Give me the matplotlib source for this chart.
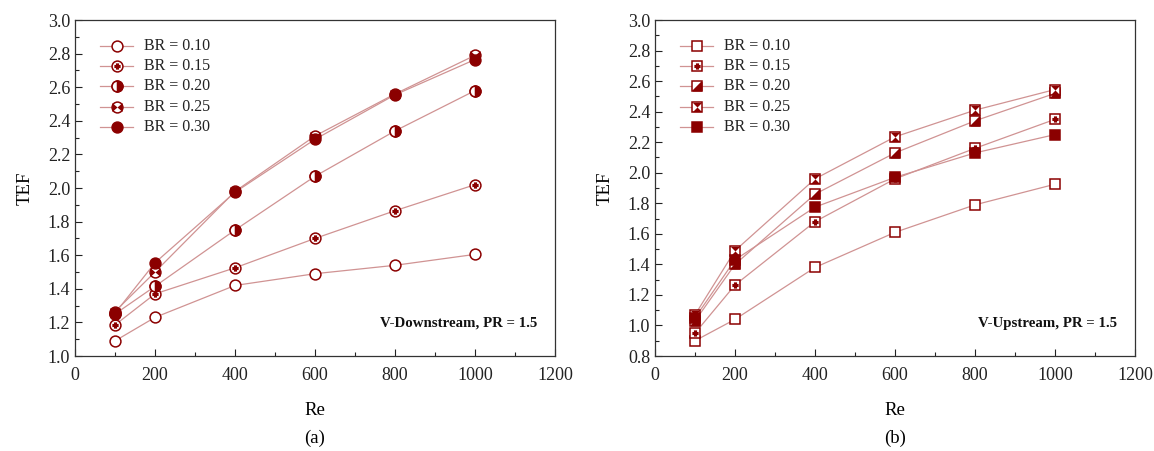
import numpy as np
import matplotlib.pyplot as plt
from matplotlib.lines import Line2D

plt.rcParams['font.family'] = ['Liberation Serif', 'DejaVu Serif']

re = [100, 200, 400, 600, 800, 1000]
br_labels = ['BR = 0.10', 'BR = 0.15', 'BR = 0.20', 'BR = 0.25', 'BR = 0.30']

# (a) V-Downstream
tef_down = [
    [1.09, 1.23, 1.42, 1.49, 1.54, 1.605],
    [1.185, 1.37, 1.525, 1.70, 1.865, 2.02],
    [1.25, 1.415, 1.75, 2.07, 2.34, 2.58],
    [1.265, 1.50, 1.98, 2.31, 2.56, 2.79],
    [1.255, 1.555, 1.975, 2.29, 2.555, 2.765],
]
# (b) V-Upstream
tef_up = [
    [0.90, 1.04, 1.38, 1.61, 1.79, 1.925],
    [0.95, 1.265, 1.68, 1.96, 2.16, 2.35],
    [1.03, 1.40, 1.86, 2.13, 2.34, 2.52],
    [1.07, 1.49, 1.96, 2.235, 2.41, 2.545],
    [1.05, 1.43, 1.775, 1.97, 2.13, 2.25],
]

dark = '#8b0000'
line_c = '#d09393'
ms = 7.8

# extra glyphs drawn on top of base markers
bowtie_h = [(-0.75, 0.65), (0, 0), (-0.75, -0.65), (-0.75, 0.65), (0, 0),
            (0.75, 0.65), (0.75, -0.65), (0, 0)]
hourglass = [(-0.8, 0.8), (0.8, 0.8), (0, 0), (0.8, -0.8), (-0.8, -0.8), (0, 0)]
tri_lr = [(1, 1), (1, -1), (-1, -1), (1, 1)]


def marker_layers(shape, i):
    """Return list of (marker, size, face, edge[, fillstyle]) layers for series i."""
    if i == 0:
        return [(shape, ms, 'white', dark)]
    if i == 1:
        return [(shape, ms, 'white', dark), ('P', 3.4, dark, dark)]
    if i == 2:
        if shape == 'o':
            return [(shape, ms, 'white', dark),
                    ('o', ms, dark, dark, 'right')]
        return [(shape, ms, 'white', dark), (tri_lr, ms * 0.78, dark, dark)]
    if i == 3:
        if shape == 'o':
            return [(shape, ms, 'white', dark), (bowtie_h, ms * 0.95, dark, 'none')]
        return [(shape, ms, 'white', dark), (hourglass, ms * 0.85, dark, 'none')]
    return [(shape, ms, dark, dark)]


def marker_kw(lay):
    return dict(linestyle='none', marker=lay[0], markersize=lay[1],
                markerfacecolor=lay[2], markeredgecolor=lay[3],
                markeredgewidth=1.1,
                fillstyle=lay[4] if len(lay) > 4 else 'full',
                markerfacecoloralt='white')


def panel(ax, data, shape, ylim, note, tag):
    for i, vals in enumerate(data):
        ax.plot(re, vals, color=line_c, lw=0.9, zorder=2)
        for k, lay in enumerate(marker_layers(shape, i)):
            ax.plot(re, vals, zorder=3 + i * 3 + k, **marker_kw(lay))

    # legend built by hand so the composite markers show
    lx0, lx1 = 0.052, 0.121
    for i, lab in enumerate(br_labels):
        ly = 0.924 - i * 0.0605
        ax.add_line(Line2D([lx0, lx1], [ly, ly], transform=ax.transAxes,
                           color=line_c, lw=0.9))
        for k, lay in enumerate(marker_layers(shape, i)):
            ax.add_line(Line2D([(lx0 + lx1) / 2], [ly], transform=ax.transAxes,
                               zorder=5 + k, **marker_kw(lay)))
        ax.text(0.144, ly, lab, transform=ax.transAxes, fontsize=11.5,
                va='center', ha='left', color='#222222')

    ax.set_xlim(0, 1200)
    ax.set_ylim(*ylim)
    ax.set_xticks(np.arange(0, 1201, 200))
    ax.set_xticks(np.arange(0, 1201, 100), minor=True)
    ax.set_yticks(np.arange(ylim[0], ylim[1] + 0.01, 0.2))
    ax.set_yticks(np.arange(ylim[0], ylim[1] + 0.01, 0.1), minor=True)
    ax.yaxis.set_major_formatter(plt.FormatStrFormatter('%.1f'))
    ax.tick_params(which='both', direction='in', top=False, right=False,
                   labelsize=13, colors='#222222')
    ax.tick_params(axis='x', which='major', pad=8)
    ax.tick_params(which='major', length=5, width=0.8)
    ax.tick_params(which='minor', length=3, width=0.8)
    for s in ax.spines.values():
        s.set_linewidth(0.9)
        s.set_color('#333333')
    ax.set_xlabel('Re', fontsize=13.5, labelpad=13)
    ax.set_ylabel('TEF', fontsize=13.5, labelpad=10)
    ax.text(0.962, 0.098, note, transform=ax.transAxes, fontsize=10.7,
            fontweight='bold', ha='right', va='center', color='#111111')
    ax.text(0.5, -0.245, tag, transform=ax.transAxes, fontsize=13.5,
            ha='center', va='center')


fig = plt.figure(figsize=(11.54, 4.51), dpi=100)
ax1 = fig.add_axes([0.065, 0.2106, 0.416, 0.745])
ax2 = fig.add_axes([0.5676, 0.2106, 0.416, 0.745])

panel(ax1, tef_down, 'o', (1.0, 3.0), 'V-Downstream, PR = 1.5', '(a)')
panel(ax2, tef_up, 's', (0.8, 3.0), 'V-Upstream, PR = 1.5', '(b)')

fig.savefig('out.png', dpi=100)
